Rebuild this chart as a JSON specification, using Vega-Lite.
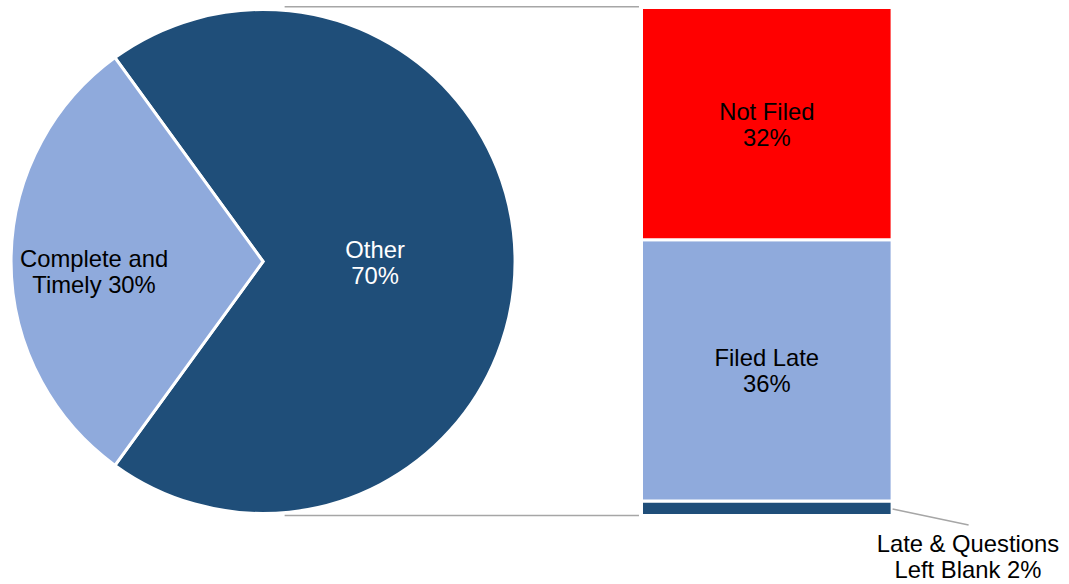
{
  "$schema": "https://vega.github.io/schema/vega-lite/v6.json",
  "width": 1069,
  "height": 584,
  "autosize": {"type": "none"},
  "padding": 0,
  "background": "white",
  "config": {"view": {"stroke": null}, "font": "Liberation Sans"},
  "datasets": {
    "pie": [
      {"cat": "Other", "value": 70, "order": 1, "label": ["Other", "70%"]},
      {"cat": "Complete and Timely", "value": 30, "order": 2, "label": ["Complete and", "Timely 30%"]}
    ],
    "bar": [
      {"cat": "Late & Questions Left Blank", "value": 2, "order": 1, "label": ["Late & Questions", "Left Blank 2%"]},
      {"cat": "Filed Late", "value": 36, "order": 2, "label": ["Filed Late", "36%"]},
      {"cat": "Not Filed", "value": 32, "order": 3, "label": ["Not Filed", "32%"]}
    ]
  },
  "layer": [
    {
      "data": {"name": "pie"},
      "mark": {"type": "arc", "outerRadius": 252, "stroke": "white", "strokeWidth": 3},
      "encoding": {
        "x": {"datum": 35, "type": "quantitative", "scale": {"domain": [-0.896, 146.41], "nice": false, "zero": false}, "axis": null},
        "y": {"datum": 35, "type": "quantitative", "scale": {"domain": [-9.439, 71.034], "nice": false, "zero": false}, "axis": null},
        "theta": {"field": "value", "type": "quantitative", "stack": true, "scale": {"range": [-0.6283185, 5.6548668]}},
        "order": {"field": "order", "type": "quantitative"},
        "color": {"field": "cat", "type": "nominal", "legend": null,
          "scale": {"domain": ["Other", "Complete and Timely", "Not Filed", "Filed Late", "Late & Questions Left Blank"],
                    "range": ["#1F4E79", "#8FAADC", "#FF0000", "#8FAADC", "#1F4E79"]}}
      }
    },
    {
      "data": {"name": "pie"},
      "mark": {"type": "text", "radius": 112, "dy": -11, "fontSize": 23.8, "lineHeight": 26, "baseline": "middle", "align": "center", "color": "white"},
      "encoding": {
        "x": {"datum": 35, "type": "quantitative"},
        "y": {"datum": 35, "type": "quantitative"},
        "theta": {"field": "value", "type": "quantitative", "stack": true},
        "order": {"field": "order", "type": "quantitative"},
        "detail": {"field": "cat", "type": "nominal"},
        "text": {"condition": {"test": "datum.cat === 'Other'", "field": "label"}, "value": ""}
      }
    },
    {
      "data": {"name": "pie"},
      "mark": {"type": "text", "radius": 169, "dy": -2, "fontSize": 23.8, "lineHeight": 26, "baseline": "middle", "align": "center", "color": "black"},
      "encoding": {
        "x": {"datum": 35, "type": "quantitative"},
        "y": {"datum": 35, "type": "quantitative"},
        "theta": {"field": "value", "type": "quantitative", "stack": true},
        "order": {"field": "order", "type": "quantitative"},
        "detail": {"field": "cat", "type": "nominal"},
        "text": {"condition": {"test": "datum.cat === 'Complete and Timely'", "field": "label"}, "value": ""}
      }
    },
    {
      "data": {"name": "bar"},
      "mark": {"type": "bar", "orient": "vertical", "stroke": "white", "strokeWidth": 3},
      "encoding": {
        "x": {"datum": 87.64, "type": "quantitative"},
        "x2": {"datum": 122.5},
        "y": {"field": "value", "type": "quantitative", "stack": "zero"},
        "order": {"field": "order", "type": "quantitative"},
        "color": {"field": "cat", "type": "nominal", "legend": null}
      }
    },
    {
      "data": {"name": "bar"},
      "mark": {"type": "text", "dy": -11, "fontSize": 23.8, "lineHeight": 26, "baseline": "middle", "align": "center", "color": "black"},
      "encoding": {
        "x": {"datum": 105.07, "type": "quantitative"},
        "y": {"field": "value", "type": "quantitative", "stack": "zero", "bandPosition": 0.5},
        "order": {"field": "order", "type": "quantitative"},
        "detail": {"field": "cat", "type": "nominal"},
        "text": {"condition": {"test": "datum.value > 5", "field": "label"}, "value": ""}
      }
    },
    {
      "data": {"name": "pie"},
      "transform": [{"filter": "datum.order === 1"}],
      "mark": {"type": "rule", "color": "#A6A6A6", "strokeWidth": 1.5},
      "encoding": {
        "x": {"datum": 38, "type": "quantitative"},
        "x2": {"datum": 87.29},
        "y": {"datum": 70.11, "type": "quantitative"}
      }
    },
    {
      "data": {"name": "pie"},
      "transform": [{"filter": "datum.order === 1"}],
      "mark": {"type": "rule", "color": "#A6A6A6", "strokeWidth": 1.5},
      "encoding": {
        "x": {"datum": 38, "type": "quantitative"},
        "x2": {"datum": 87.29},
        "y": {"datum": 0, "type": "quantitative"}
      }
    },
    {
      "data": {"name": "pie"},
      "transform": [{"filter": "datum.order === 1"}],
      "mark": {"type": "rule", "color": "#A6A6A6", "strokeWidth": 1.5},
      "encoding": {
        "x": {"datum": 122.57, "type": "quantitative"},
        "y": {"datum": 0.9, "type": "quantitative"},
        "x2": {"datum": 133.14},
        "y2": {"datum": -1.31}
      }
    },
    {
      "data": {"name": "bar"},
      "transform": [{"filter": "datum.value < 5"}],
      "mark": {"type": "text", "dy": -12, "fontSize": 23.8, "lineHeight": 26, "baseline": "middle", "align": "center", "color": "black"},
      "encoding": {
        "x": {"datum": 133.05, "type": "quantitative"},
        "y": {"datum": -5.72, "type": "quantitative"},
        "text": {"field": "label", "type": "nominal"}
      }
    }
  ]
}
